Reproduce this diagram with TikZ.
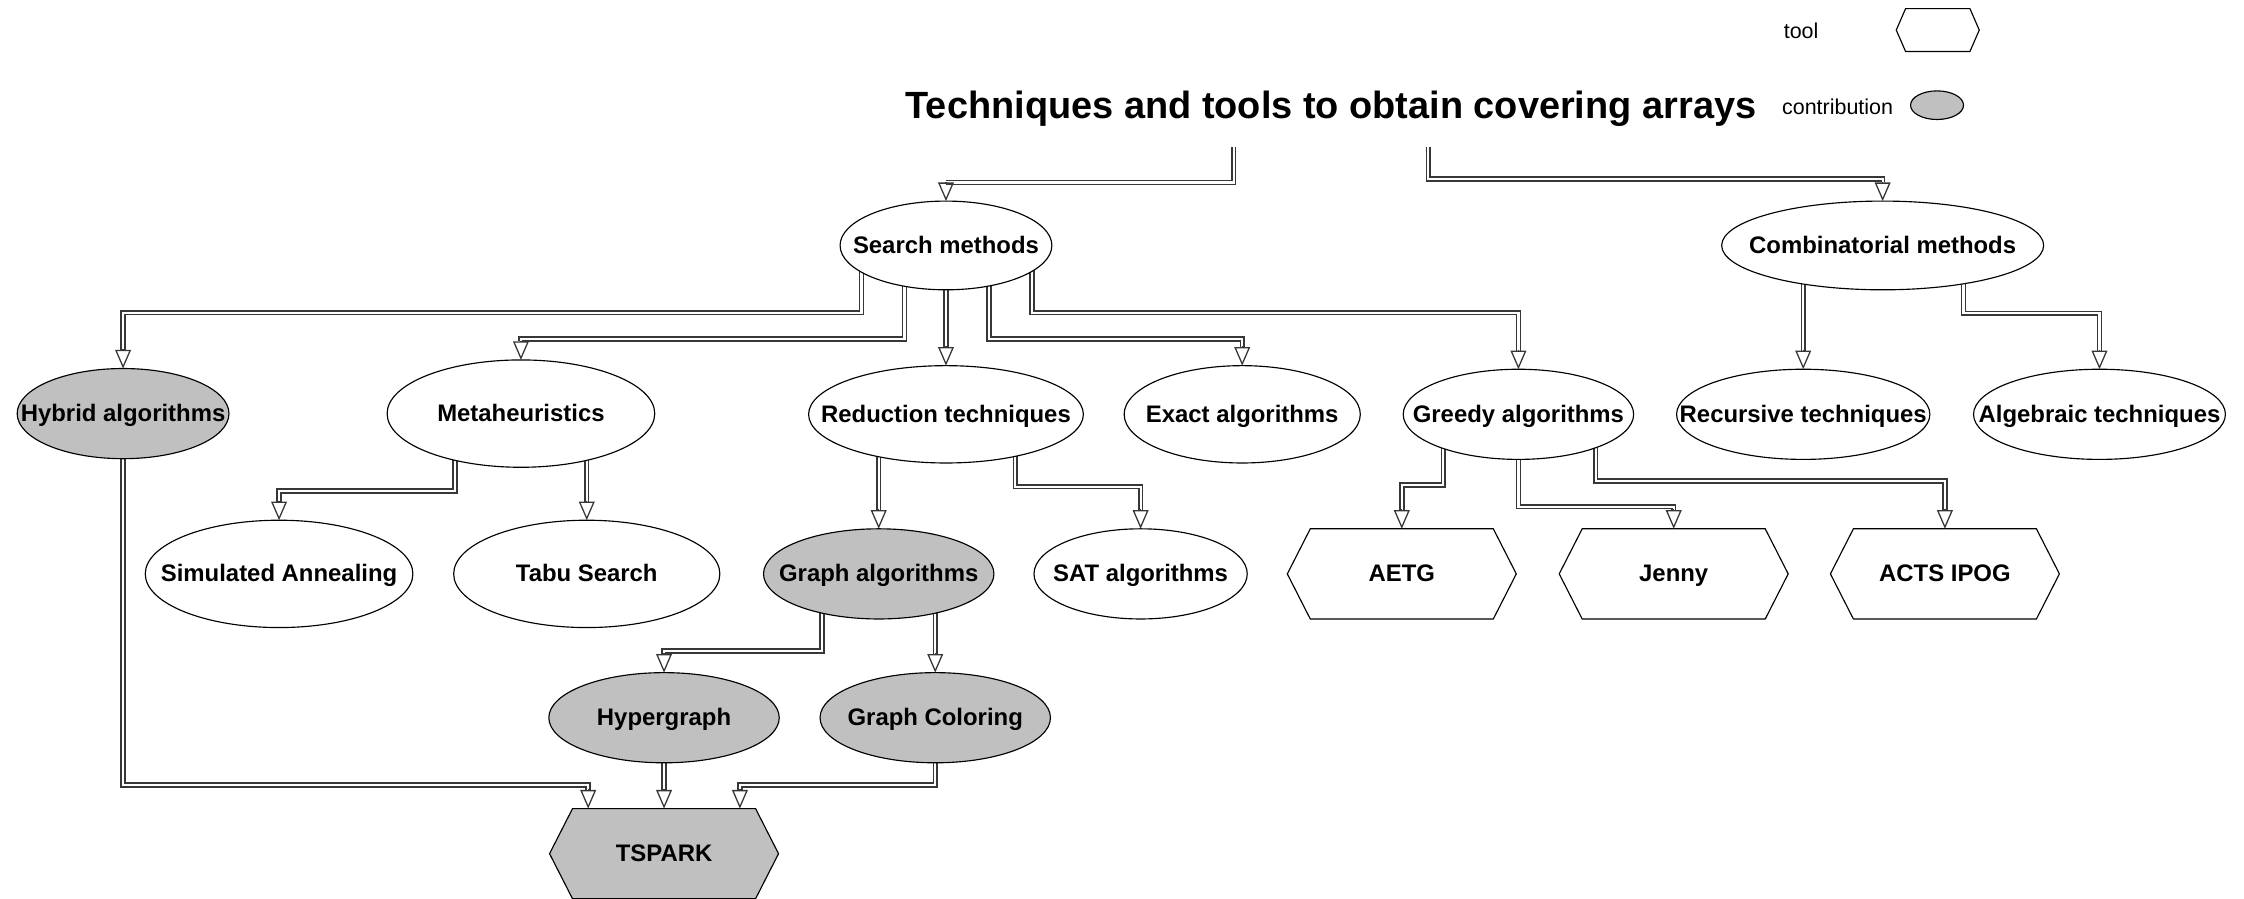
\documentclass[tikz,border=0pt]{standalone}
\usepackage{fontspec}
\setmainfont{Liberation Sans}
\usetikzlibrary{shapes.geometric,shapes.symbols,arrows.meta,calc,backgrounds}
\definecolor{silverfill}{RGB}{192,192,192}
\definecolor{connline}{RGB}{55,55,55}
\begin{document}
\begin{tikzpicture}[x=1pt,y=-1pt,
  lbl/.style={font=\fontsize{16.7}{18}\selectfont\bfseries, inner sep=0pt, outer sep=0pt, text height=12pt, text depth=1pt},
  ell/.style={lbl, ellipse, draw=black, line width=0.8pt, fill=white},
  contrib/.style={ell, fill=silverfill},
  hexa/.style={lbl, signal, signal to=east and west, signal pointer angle=126,
    draw=black, line width=0.8pt, fill=white, minimum width=160pt, minimum height=63pt},
  dconn/.style={draw=connline, double=white, double distance=1.5pt, line width=1.15pt},
  tipst/.style={draw=connline, line width=0.9pt, -{Triangle[open, length=13pt, width=11pt]}},
]
\useasboundingbox (0,0) rectangle (1568,627.5);

% title and legend
\node[font=\fontsize{26.5}{30}\selectfont\bfseries, anchor=base, inner sep=0pt] (title) at (930,83) {Techniques and tools to obtain covering arrays};
\node[font=\fontsize{15}{17}\selectfont, anchor=base, inner sep=0pt] (ltool) at (1258.5,27) {tool};
\node[font=\fontsize{15}{17}\selectfont, anchor=base, inner sep=0pt] (lcontrib) at (1284,80) {contribution};
\node[hexa, minimum width=58pt, minimum height=30pt, signal pointer angle=133] (lhex) at (1354,21) {};
\node[contrib, minimum width=37pt, minimum height=20pt] (lell) at (1353.5,73.5) {};

% level 1
\node[ell, minimum width=148pt, minimum height=62pt] (sm) at (661,171.5) {\makebox[0pt]{Search methods}};
\node[ell, minimum width=225pt, minimum height=62pt] (cm) at (1315.5,171.5) {\makebox[0pt]{Combinatorial methods}};

% level 2
\node[contrib, minimum width=148pt, minimum height=63pt] (hy) at (86,289) {\makebox[0pt]{Hybrid algorithms}};
\node[ell, minimum width=187pt, minimum height=75pt] (me) at (364,289) {\makebox[0pt]{Metaheuristics}};
\node[ell, minimum width=192pt, minimum height=68pt] (re) at (661,289.5) {\makebox[0pt]{Reduction techniques}};
\node[ell, minimum width=165pt, minimum height=68pt] (ex) at (868,289.5) {\makebox[0pt]{Exact algorithms}};
\node[ell, minimum width=161pt, minimum height=63pt] (gr) at (1061,289.5) {\makebox[0pt]{Greedy algorithms}};
\node[ell, minimum width=177pt, minimum height=63pt] (rc) at (1260,289.5) {\makebox[0pt]{Recursive techniques}};
\node[ell, minimum width=176pt, minimum height=63pt] (al) at (1467,289.5) {\makebox[0pt]{Algebraic techniques}};

% level 3
\node[ell, minimum width=187pt, minimum height=75pt] (sa) at (195,401) {\makebox[0pt]{Simulated Annealing}};
\node[ell, minimum width=186pt, minimum height=75pt] (ta) at (410,401) {\makebox[0pt]{Tabu Search}};
\node[contrib, minimum width=161pt, minimum height=63pt] (ga) at (614,401) {\makebox[0pt]{Graph algorithms}};
\node[ell, minimum width=149pt, minimum height=63pt] (sat) at (797,401) {\makebox[0pt]{SAT algorithms}};
\node[hexa] (ae) at (979.5,401) {\makebox[0pt]{AETG}};
\node[hexa] (je) at (1169.5,401) {\makebox[0pt]{Jenny}};
\node[hexa] (ac) at (1359,401) {\makebox[0pt]{ACTS IPOG}};

% level 4
\node[contrib, minimum width=161pt, minimum height=63pt] (hg) at (464,501.5) {\makebox[0pt]{Hypergraph}};
\node[contrib, minimum width=161pt, minimum height=63pt] (gc) at (653.5,501.5) {\makebox[0pt]{Graph Coloring}};
\node[hexa, fill=silverfill] (ts) at (464,596.5) {\makebox[0pt]{TSPARK}};

\begin{pgfonlayer}{background}
% title connectors
\draw[dconn] ($(title.base)+(-68,20)$) |- ($(sm.north)+(0,-13)$);
\draw[dconn] ($(title.base)+(68,20)$) -- ++(0,22) -| ($(cm.north)+(0,-13)$);
% search methods
\draw[dconn] ($(sm.center)+(-59,0)$) -- ++(0,47) -| ($(hy.north)+(0,-13)$);
\draw[dconn] ($(sm.center)+(-29,0)$) -- ++(0,65.5) -| ($(me.north)+(0,-13)$);
\draw[dconn] (sm.center) -- ($(re.north)+(0,-13)$);
\draw[dconn] ($(sm.center)+(30,0)$) -- ++(0,65.5) -| ($(ex.north)+(0,-13)$);
\draw[dconn] ($(sm.center)+(60,0)$) -- ++(0,47) -| ($(gr.north)+(0,-13)$);
% combinatorial
\draw[dconn] ($(cm.center)+(-55.5,0)$) -- ($(rc.north)+(0,-13)$);
\draw[dconn] ($(cm.center)+(56.5,0)$) -- ++(0,47.5) -| ($(al.north)+(0,-13)$);
% metaheuristics
\draw[dconn] ($(me.center)+(-46,0)$) -- ++(0,54) -| ($(sa.north)+(0,-13)$);
\draw[dconn] ($(me.center)+(46,0)$) -- ($(ta.north)+(0,-13)$);
% reduction
\draw[dconn] ($(re.center)+(-47,0)$) -- ($(ga.north)+(0,-13)$);
\draw[dconn] ($(re.center)+(48.5,0)$) -- ++(0,50.5) -| ($(sat.north)+(0,-13)$);
% greedy
\draw[dconn] ($(gr.center)+(-52.5,0)$) -- ++(0,49.5) -| ($(ae.north)+(0,-13)$);
\draw[dconn] (gr.center) -- ++(0,64.5) -| ($(je.north)+(0,-13)$);
\draw[dconn] ($(gr.center)+(54,0)$) -- ++(0,46.5) -| ($(ac.north)+(0,-13)$);
% graph algorithms
\draw[dconn] ($(ga.center)+(-39.5,0)$) -- ++(0,54) -| ($(hg.north)+(0,-13)$);
\draw[dconn] ($(ga.center)+(39.5,0)$) -- ($(gc.north)+(0,-13)$);
% to TSPARK
\draw[dconn] (hy.center) -- ++(0,259.5) -| ($(ts.north)+(-53,-13)$);
\draw[dconn] (hg.center) -- ($(ts.north)+(0,-13)$);
\draw[dconn] (gc.center) -- ++(0,47) -| ($(ts.north)+(53,-13)$);
\end{pgfonlayer}

% arrow tips
\draw[tipst] ($(sm.north)+(0,-13.5)$) -- (sm.north);
\draw[tipst] ($(cm.north)+(0,-13.5)$) -- (cm.north);
\draw[tipst] ($(hy.north)+(0,-13.5)$) -- (hy.north);
\draw[tipst] ($(me.north)+(0,-13.5)$) -- (me.north);
\draw[tipst] ($(re.north)+(0,-13.5)$) -- (re.north);
\draw[tipst] ($(ex.north)+(0,-13.5)$) -- (ex.north);
\draw[tipst] ($(gr.north)+(0,-13.5)$) -- (gr.north);
\draw[tipst] ($(rc.north)+(0,-13.5)$) -- (rc.north);
\draw[tipst] ($(al.north)+(0,-13.5)$) -- (al.north);
\draw[tipst] ($(sa.north)+(0,-13.5)$) -- (sa.north);
\draw[tipst] ($(ta.north)+(0,-13.5)$) -- (ta.north);
\draw[tipst] ($(ga.north)+(0,-13.5)$) -- (ga.north);
\draw[tipst] ($(sat.north)+(0,-13.5)$) -- (sat.north);
\draw[tipst] ($(ae.north)+(0,-13.5)$) -- (ae.north);
\draw[tipst] ($(je.north)+(0,-13.5)$) -- (je.north);
\draw[tipst] ($(ac.north)+(0,-13.5)$) -- (ac.north);
\draw[tipst] ($(hg.north)+(0,-13.5)$) -- (hg.north);
\draw[tipst] ($(gc.north)+(0,-13.5)$) -- (gc.north);
\draw[tipst] ($(ts.north)+(-53,-13.5)$) -- ($(ts.north)+(-53,0)$);
\draw[tipst] ($(ts.north)+(0,-13.5)$) -- (ts.north);
\draw[tipst] ($(ts.north)+(53,-13.5)$) -- ($(ts.north)+(53,0)$);
\end{tikzpicture}
\end{document}
